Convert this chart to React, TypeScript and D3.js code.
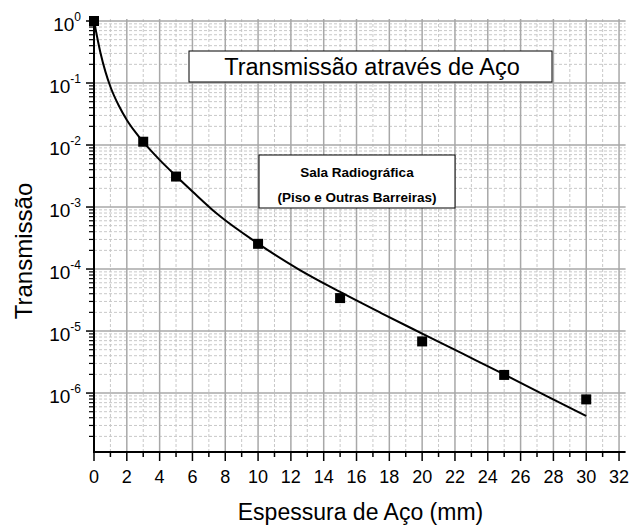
import * as d3 from 'd3';

// measured points (espessura de aço in mm, transmissão)
const thickness = [0, 3, 5, 10, 15, 20, 25, 30];
const transmission = [1.0, 1.13e-2, 3.1e-3, 2.55e-4, 3.4e-5, 6.8e-6, 1.96e-6, 7.9e-7];

// fitted curve
const fitThickness = [0, 0.2, 0.4, 0.7, 1, 1.5, 2, 2.5, 3, 4, 5, 6, 7.5, 10, 12.5, 15, 17.5, 20, 22.5, 25, 27.5, 30];
const fitTransmission = [
  1.0, 0.537, 0.302, 0.151, 0.0871, 0.0437, 0.0254, 0.0164, 0.0112, 0.00575, 0.00316, 0.00178,
  7.76e-4, 2.57e-4, 9.8e-5, 4.27e-5, 1.95e-5, 9.1e-6, 4.27e-6, 2.0e-6, 9.2e-7, 4.27e-7,
];

const xMajor = [0, 2, 4, 6, 8, 10, 12, 14, 16, 18, 20, 22, 24, 26, 28, 30, 32];
const xMinor = [1, 3, 5, 7, 9, 11, 13, 15, 17, 19, 21, 23, 25, 27, 29, 31];
const yExponents = [0, -1, -2, -3, -4, -5, -6];

const title = 'Transmissão através de Aço';
const legendLines = ['Sala Radiográfica', '(Piso e Outras Barreiras)'];
const xLabel = 'Espessura de Aço (mm)';
const yLabel = 'Transmissão';

const W = 632;
const H = 527;
const font = '"Liberation Sans", Arial, Helvetica, sans-serif';

export default function App() {
  const x = d3.scaleLinear().domain([0, 32.4]).range([94, 625.6]);
  const y = d3.scaleLog().domain([1.12e-7, 1.077]).range([452, 19]);
  const [x0, x1] = x.range();
  const [yb, yt] = y.range();

  const yMinor: number[] = [];
  for (let e = -7; e <= -1; e++) {
    for (let k = 2; k <= 9; k++) {
      const v = k * Math.pow(10, e);
      if (v >= y.domain()[0] && v <= y.domain()[1]) yMinor.push(v);
    }
  }

  const line = d3
    .line<number>()
    .x((d, i) => x(fitThickness[i]))
    .y((d) => y(d))
    .curve(d3.curveMonotoneX);

  return (
    <svg width={W} height={H} style={{ position: 'absolute', left: 0, top: 0, background: '#fff' }} fontFamily={font}>
      {/* grid */}
      <g>
        {yMinor.map((v) => (
          <line key={'ym' + v} x1={x0} x2={x1} y1={y(v)} y2={y(v)} stroke="#c8c8c8" strokeWidth={1} strokeDasharray="3,2" />
        ))}
        {xMinor.map((v) => (
          <line key={'xm' + v} x1={x(v)} x2={x(v)} y1={yt} y2={yb} stroke="#c8c8c8" strokeWidth={1} strokeDasharray="3,2" />
        ))}
        {yExponents.map((e) => (
          <line key={'yM' + e} x1={x0} x2={x1} y1={y(Math.pow(10, e))} y2={y(Math.pow(10, e))} stroke="#a8a8a8" strokeWidth={1.5} />
        ))}
        {xMajor.map((v) => (
          <line key={'xM' + v} x1={x(v)} x2={x(v)} y1={yt} y2={yb} stroke="#a8a8a8" strokeWidth={1.5} />
        ))}
      </g>

      {/* title box */}
      <rect x={189} y={51} width={363} height={31} fill="#fff" stroke="#000" strokeWidth={1} />
      <text x={372} y={75} textAnchor="middle" fontSize={23.5}>
        {title}
      </text>

      {/* legend box */}
      <rect x={259} y={155} width={196} height={53} fill="#fff" stroke="#000" strokeWidth={1} />
      {legendLines.map((t, i) => (
        <text key={t} x={357} y={177 + i * 24.5} textAnchor="middle" fontSize={13.5} fontWeight="bold">
          {t}
        </text>
      ))}

      {/* fit curve */}
      <path d={line(fitTransmission) || ''} fill="none" stroke="#000" strokeWidth={2} />

      {/* markers */}
      {thickness.map((t, i) => (
        <rect key={'p' + t} x={x(t) - 5} y={y(transmission[i]) - 5} width={10} height={10} fill="#000" />
      ))}

      {/* axes */}
      <line x1={x0} x2={x0} y1={yt} y2={yb + 1} stroke="#000" strokeWidth={2} />
      <line x1={x0 - 1} x2={x1} y1={yb} y2={yb} stroke="#000" strokeWidth={2} />

      {xMajor.map((v) => (
        <g key={'xt' + v}>
          <line x1={x(v)} x2={x(v)} y1={yb} y2={yb + 9} stroke="#000" strokeWidth={1.5} />
          <text x={x(v)} y={483} textAnchor="middle" fontSize={18}>
            {v}
          </text>
        </g>
      ))}
      {xMinor.map((v) => (
        <line key={'xmt' + v} x1={x(v)} x2={x(v)} y1={yb} y2={yb + 5} stroke="#000" strokeWidth={1.5} />
      ))}

      {yExponents.map((e) => {
        const ty = y(Math.pow(10, e));
        return (
          <g key={'yt' + e}>
            <line x1={x0 - 8} x2={x0} y1={ty} y2={ty} stroke="#000" strokeWidth={1.5} />
            <text x={81} y={ty + 10} textAnchor="end" fontSize={19}>
              <tspan>10</tspan>
              <tspan fontSize={12} dy={-10}>
                {e}
              </tspan>
            </text>
          </g>
        );
      })}
      {yMinor.map((v) => (
        <line key={'ymt' + v} x1={x0 - 5} x2={x0} y1={y(v)} y2={y(v)} stroke="#000" strokeWidth={1.2} />
      ))}

      {/* axis titles */}
      <text x={360.5} y={520} textAnchor="middle" fontSize={23}>
        {xLabel}
      </text>
      <text transform="translate(32,251) rotate(-90)" textAnchor="middle" fontSize={24}>
        {yLabel}
      </text>
    </svg>
  );
}
